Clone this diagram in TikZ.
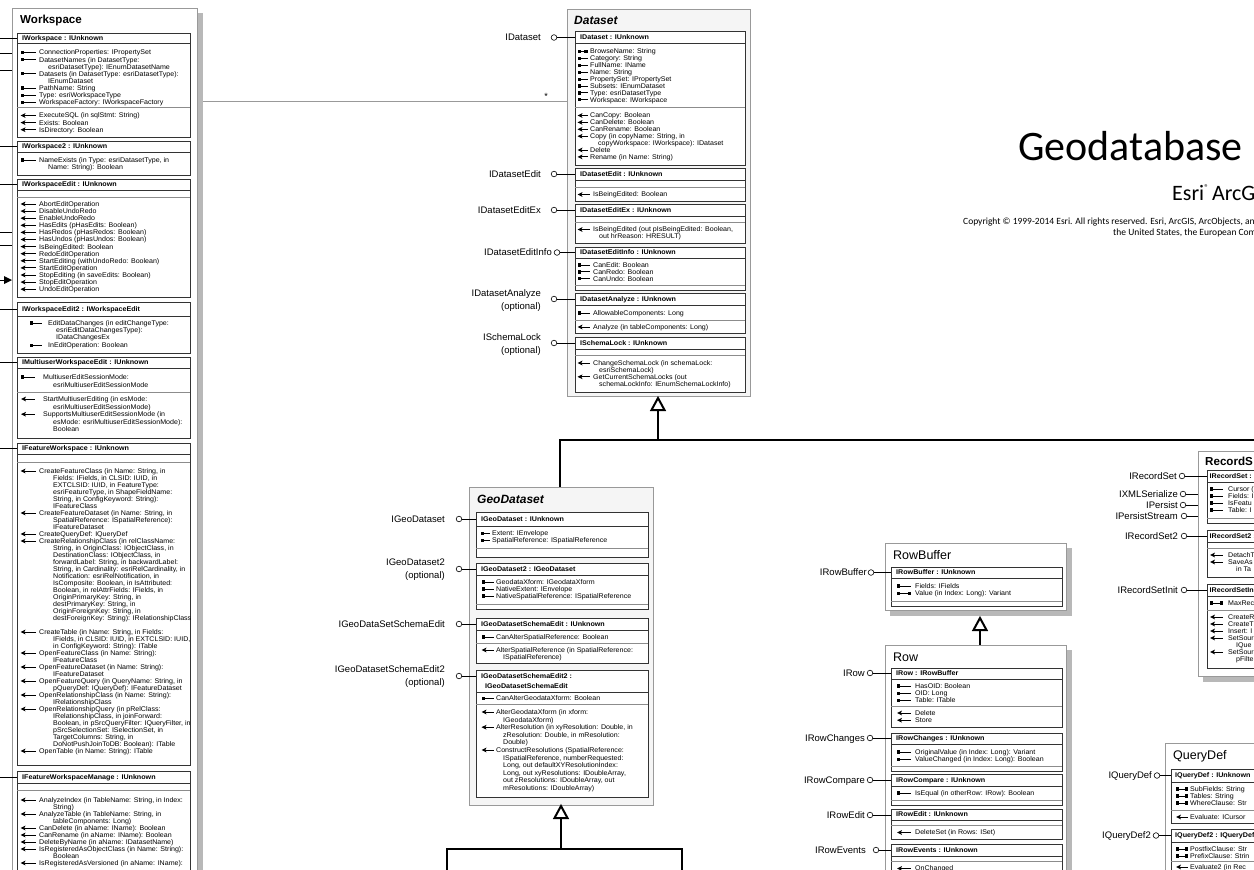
\documentclass[tikz,border=0pt]{standalone}
\usepackage{fontspec}
\setmainfont{Liberation Sans}
\newfontfamily\mf{Liberation Sans}[FakeStretch=1.04]
\newfontfamily\hf{Liberation Sans}[FakeStretch=1.05]
\newfontfamily\calfont{Carlito}
\newcounter{tc}
\newcommand\MF{\mf\fontsize{6.8}{7}\selectfont}
\newcommand\HF{\hf\bfseries\fontsize{6.8}{7}\selectfont}
\newcommand\LF{\fontsize{9.5}{11}\selectfont}
\newcommand\setcur[1]{\pgfmathsetmacro\tmpv{#1}\global\let\cury\tmpv}
\newcommand\nx{\pgfmathsetmacro\tmpv{\cury+\LS}\global\let\cury\tmpv}
\newcommand\Tn[2]{\stepcounter{tc}\node[mem] (t\arabic{tc}) at (#1,\cury+\BO) {#2};}
\newcommand\icong{\fill (\IX,\cury-1.6) rectangle ++(3.2,3.2); \draw[icl] (\IX+3.2,\cury) -- (\IX+\IL,\cury);}
\newcommand\icongs{\fill (\IX,\cury-1.6) rectangle ++(3.2,3.2); \draw[icl] (\IX+3.2,\cury) -- (\IX+\IL-3.2,\cury); \fill (\IX+\IL-3.2,\cury-1.6) rectangle ++(3.2,3.2);}
\newcommand\iconm{\fill (\IX,\cury) -- (\IX+5,\cury-2.4) -- (\IX+3.8,\cury) -- (\IX+5,\cury+2.4) -- cycle; \draw[icl] (\IX+3.8,\cury) -- (\IX+\IL,\cury);}
\newcommand\Mg[1]{\icong\Tn{\TX}{#1}\nx}
\newcommand\Mgs[1]{\icongs\Tn{\TX}{#1}\nx}
\newcommand\Mm[1]{\iconm\Tn{\TX}{#1}\nx}
\newcommand\Mc[1]{\Tn{\CX}{#1}\nx}
\newcommand\ibox[4]{\draw[ibx] (\BL,#1) rectangle (\BR,#2); \draw[ihl] (\BL,#3) -- (\BR,#3); \stepcounter{tc}\node[hdr] (t\arabic{tc}) at (\BL+\HX,{(#1+#3)/2+\HBO}) {#4};}
\newcommand\sep[1]{\draw[isep] (\BL,#1) -- (\BR,#1);}
\newcommand\lol[5]{\stepcounter{tc}\node[lab] (t\arabic{tc}) at (#2,#4+3.4) {#1}; \node[lolc] (c\arabic{tc}) at (#3,#4) {}; \coordinate (e\arabic{tc}) at (#5,#4); \draw[lline] (c\arabic{tc}) -- (e\arabic{tc});}
\newcommand\lolb[8]{\stepcounter{tc}\node[lab] (t\arabic{tc}) at (#3,#4+3.4) {#1}; \node[lab] (u\arabic{tc}) at (#3,#5+3.4) {#2}; \node[lolc] (c\arabic{tc}) at (#6,#7) {}; \coordinate (e\arabic{tc}) at (#8,#7); \draw[lline] (c\arabic{tc}) -- (e\arabic{tc});}
\newcommand\conn[3]{\stepcounter{tc}\coordinate (a\arabic{tc}) at (#1,#2); \coordinate (b\arabic{tc}) at (#3,#2); \draw[lline] (a\arabic{tc}) -- (b\arabic{tc});}
\tikzset{
 obx/.style={draw=black!40, line width=0.8pt},
 ibx/.style={draw=black!80, line width=0.8pt, fill=white},
 ihl/.style={draw=black!80, line width=0.6pt},
 isep/.style={draw=black!45, line width=0.7pt},
 icl/.style={line width=0.85pt},
 lline/.style={line width=0.8pt},
 mem/.style={anchor=base west, inner sep=0pt, font=\MF},
 hdr/.style={anchor=base west, inner sep=0pt, font=\HF},
 lab/.style={anchor=base east, inner sep=0pt, font=\LF},
 lolc/.style={circle, draw, fill=white, line width=0.6pt, minimum size=5.6pt, inner sep=0pt},
 inh/.style={line width=2.3pt},
 tri/.style={line width=2pt, fill=white, line join=miter},
 shd/.style={fill=black!28},
 ttlb/.style={anchor=base west, inner sep=0pt, font=\bfseries\fontsize{11.6}{12}\selectfont},
 ttlbi/.style={anchor=base west, inner sep=0pt, font=\bfseries\itshape\fontsize{12}{12}\selectfont},
 ttlr/.style={anchor=base west, inner sep=0pt, font=\fontsize{12.5}{13}\selectfont},
}
\begin{document}
\begin{tikzpicture}[x=1pt,y=-1pt]
\useasboundingbox (0,0) rectangle (1254,870);
\fill[white] (0,0) rectangle (1254,870);
% ---------- title block
\node[anchor=base west, inner sep=0pt, font=\calfont\fontsize{42}{42}\selectfont] (ttl) at (1018,160) {Geodatabase};
\node[anchor=base west, inner sep=0pt, font=\calfont\fontsize{22}{22}\selectfont] (esri) at (1172,200) {Esri\raisebox{9.5pt}{\fontsize{8.5}{8.5}\selectfont ®}\kern3.5pt ArcG};
\node[anchor=base west, inner sep=0pt, font=\calfont\fontsize{9.5}{10}\selectfont] (cp1) at (963,224) {Copyright © 1999-2014 Esri. All rights reserved. Esri, ArcGIS, ArcObjects, an};
\node[anchor=base west, inner sep=0pt, font=\calfont\fontsize{9.5}{10}\selectfont] (cp2) at (1113,235.5) {the United States, the European Com};
% ---------- Workspace
\fill[shd] (197,13) rectangle (203,880);
\draw[obx, fill=white] (12,8) rectangle (197,880);
\node[ttlb] (wsT) at (20,23.5) {Workspace};
\def\BL{17}\def\BR{190}\def\HX{5}\def\HBO{2.4}\def\BO{2.4}
\def\IX{20.5}\def\IL{15.5}\def\TX{39}\def\CX{48}\def\LS{7.1}
\ibox{33}{137}{43}{IWorkspace : IUnknown}
\setcur{52.5}
\Mg{ConnectionProperties: IPropertySet}
\Mg{DatasetNames (in DatasetType:}
\Mc{esriDatasetType): IEnumDatasetName}
\Mg{Datasets (in DatasetType: esriDatasetType):}
\Mc{IEnumDataset}
\Mg{PathName: String}
\Mg{Type: esriWorkspaceType}
\Mg{WorkspaceFactory: IWorkspaceFactory}
\sep{107}
\setcur{115.5}
\Mm{ExecuteSQL (in sqlStmt: String)}
\Mm{Exists: Boolean}
\Mm{IsDirectory: Boolean}
\ibox{141}{175}{152}{IWorkspace2 : IUnknown}
\setcur{160}
\Mg{NameExists (in Type: esriDatasetType, in}
\Mc{Name: String): Boolean}
\ibox{179}{297}{190}{IWorkspaceEdit : IUnknown}
\sep{197}
\setcur{204}
\Mm{AbortEditOperation}
\Mm{DisableUndoRedo}
\Mm{EnableUndoRedo}
\Mm{HasEdits (pHasEdits: Boolean)}
\Mm{HasRedos (pHasRedos: Boolean)}
\Mm{HasUndos (pHasUndos: Boolean)}
\Mm{IsBeingEdited: Boolean}
\Mm{RedoEditOperation}
\Mm{StartEditing (withUndoRedo: Boolean)}
\Mm{StartEditOperation}
\Mm{StopEditing (in saveEdits: Boolean)}
\Mm{StopEditOperation}
\Mm{UndoEditOperation}
\ibox{302}{353}{316}{IWorkspaceEdit2 : IWorkspaceEdit}
\def\IX{30}\def\IL{12}\def\TX{48}\def\CX{56}
\setcur{323}
\Mg{EditDataChanges (in editChangeType:}
\Mc{esriEditDataChangesType):}
\Mc{IDataChangesEx}
\setcur{345.5}
\Mg{InEditOperation: Boolean}
\ibox{357}{438}{368}{IMultiuserWorkspaceEdit : IUnknown}
\def\IX{21}\def\IL{14}\def\TX{43}\def\CX{53}\def\LS{7.6}
\setcur{377}
\Mg{MultiuserEditSessionMode:}
\Mc{esriMultiuserEditSessionMode}
\sep{392}
\setcur{399}
\Mm{StartMultiuserEditing (in esMode:}
\Mc{esriMultiuserEditSessionMode)}
\Mm{SupportsMultiuserEditSessionMode (in}
\Mc{esMode: esriMultiuserEditSessionMode):}
\Mc{Boolean}
\def\IX{20.5}\def\IL{15.5}\def\TX{39}\def\CX{53}\def\LS{7.0}
\ibox{443}{765}{454}{IFeatureWorkspace : IUnknown}
\sep{462}
\setcur{471}
\Mm{CreateFeatureClass (in Name: String, in}
\Mc{Fields: IFields, in CLSID: IUID, in}
\Mc{EXTCLSID: IUID, in FeatureType:}
\Mc{esriFeatureType, in ShapeFieldName:}
\Mc{String, in ConfigKeyword: String):}
\Mc{IFeatureClass}
\Mm{CreateFeatureDataset (in Name: String, in}
\Mc{SpatialReference: ISpatialReference):}
\Mc{IFeatureDataset}
\Mm{CreateQueryDef: IQueryDef}
\Mm{CreateRelationshipClass (in relClassName:}
\Mc{String, in OriginClass: IObjectClass, in}
\Mc{DestinationClass: IObjectClass, in}
\Mc{forwardLabel: String, in backwardLabel:}
\Mc{String, in Cardinality: esriRelCardinality, in}
\Mc{Notification: esriRelNotification, in}
\Mc{IsComposite: Boolean, in IsAttributed:}
\Mc{Boolean, in relAttrFields: IFields, in}
\Mc{OriginPrimaryKey: String, in}
\Mc{destPrimaryKey: String, in}
\Mc{OriginForeignKey: String, in}
\Mc{destForeignKey: String): IRelationshipClass}
\nx
\Mm{CreateTable (in Name: String, in Fields:}
\Mc{IFields, in CLSID: IUID, in EXTCLSID: IUID,}
\Mc{in ConfigKeyword: String): ITable}
\Mm{OpenFeatureClass (in Name: String):}
\Mc{IFeatureClass}
\Mm{OpenFeatureDataset (in Name: String):}
\Mc{IFeatureDataset}
\Mm{OpenFeatureQuery (in QueryName: String, in}
\Mc{pQueryDef: IQueryDef): IFeatureDataset}
\Mm{OpenRelationshipClass (in Name: String):}
\Mc{IRelationshipClass}
\Mm{OpenRelationshipQuery (in pRelClass:}
\Mc{IRelationshipClass, in joinForward:}
\Mc{Boolean, in pSrcQueryFilter: IQueryFilter, in}
\Mc{pSrcSelectionSet: ISelectionSet, in}
\Mc{TargetColumns: String, in}
\Mc{DoNotPushJoinToDB: Boolean): ITable}
\Mm{OpenTable (in Name: String): ITable}
\ibox{771}{900}{783}{IFeatureWorkspaceManage : IUnknown}
\sep{790}
\setcur{800}
\Mm{AnalyzeIndex (in TableName: String, in Index:}
\Mc{String)}
\Mm{AnalyzeTable (in TableName: String, in}
\Mc{tableComponents: Long)}
\Mm{CanDelete (in aName: IName): Boolean}
\Mm{CanRename (in aName: IName): Boolean}
\Mm{DeleteByName (in aName: IDatasetName)}
\Mm{IsRegisteredAsObjectClass (in Name: String):}
\Mc{Boolean}
\Mm{IsRegisteredAsVersioned (in aName: IName):}
% left connectors of Workspace
\conn{0}{38}{17}
\conn{0}{53}{12}
\conn{0}{70}{12}
\conn{0}{146.5}{17}
\conn{0}{184.5}{17}
\conn{0}{232}{12}
\conn{0}{245}{12}
\coordinate (arA) at (0,280); \coordinate (arB) at (5,280);
\draw[lline] (arA) -- (arB);
\fill (12,280) -- (4,276) -- (4,284) -- cycle;
\conn{0}{309}{17}
\conn{0}{362.5}{17}
\conn{0}{448.5}{17}
\conn{0}{777}{17}
% Workspace - Dataset association
\coordinate (wsR) at (203,101.5); \coordinate (dsL) at (567,101.5);
\draw[draw=black!40, line width=1.3pt] (wsR) -- (dsL);
\node[inner sep=0pt, font=\fontsize{9}{9}\selectfont] (star) at (546,96) {*};
% ---------- Dataset
\draw[obx, fill=black!4] (567,9) rectangle (750,396);
\node[ttlbi] (dsT) at (574,24.3) {Dataset};
\def\BL{575}\def\BR{745}\def\IX{577.5}\def\IL{10}\def\TX{590}\def\CX{598}\def\LS{6.9}
\ibox{31}{165}{43}{IDataset : IUnknown}
\setcur{51.5}
\Mgs{BrowseName: String}
\Mg{Category: String}
\Mg{FullName: IName}
\Mg{Name: String}
\Mg{PropertySet: IPropertySet}
\Mg{Subsets: IEnumDataset}
\Mg{Type: esriDatasetType}
\Mg{Workspace: IWorkspace}
\sep{107}
\setcur{115.5}
\Mm{CanCopy: Boolean}
\Mm{CanDelete: Boolean}
\Mm{CanRename: Boolean}
\Mm{Copy (in copyName: String, in}
\Mc{copyWorkspace: IWorkspace): IDataset}
\Mm{Delete}
\Mm{Rename (in Name: String)}
\def\IL{12}\def\TX{593}\def\CX{599}
\ibox{168}{201}{180}{IDatasetEdit : IUnknown}
\sep{187}
\setcur{194.5}
\Mm{IsBeingEdited: Boolean}
\ibox{204}{243}{216}{IDatasetEditEx : IUnknown}
\sep{222}
\setcur{229.5}
\Mm{IsBeingEdited (out pIsBeingEdited: Boolean,}
\Mc{out hrReason: HRESULT)}
\ibox{247}{290}{258}{IDatasetEditInfo : IUnknown}
\setcur{265}
\Mg{CanEdit: Boolean}
\Mg{CanRedo: Boolean}
\Mg{CanUndo: Boolean}
\sep{285}
\ibox{293}{333}{305}{IDatasetAnalyze : IUnknown}
\setcur{313}
\Mg{AllowableComponents: Long}
\sep{320}
\setcur{327}
\Mm{Analyze (in tableComponents: Long)}
\ibox{337}{392}{349}{ISchemaLock : IUnknown}
\sep{355}
\setcur{363}
\Mm{ChangeSchemaLock (in schemaLock:}
\Mc{esriSchemaLock)}
\Mm{GetCurrentSchemaLocks (out}
\Mc{schemaLockInfo: IEnumSchemaLockInfo)}
\lol{IDataset}{541}{554}{37.5}{575}
\lol{IDatasetEdit}{541}{554}{174}{575}
\lol{IDatasetEditEx}{541}{554}{210}{575}
\lol{IDatasetEditInfo}{552}{557}{252.5}{575}
\lolb{IDatasetAnalyze}{(optional)}{541}{293}{306}{554}{299}{575}
\lolb{ISchemaLock}{(optional)}{541}{337}{350}{554}{343}{575}
% ---------- GeoDataset
\draw[obx, fill=black!4] (469,487) rectangle (653,805);
\node[ttlbi] (gdT) at (477,503.3) {GeoDataset};
\def\BL{476}\def\BR{648}\def\IX{480.5}\def\IL{9.5}\def\TX{492}\def\CX{503}\def\LS{7}
\ibox{512}{557}{526}{IGeoDataset : IUnknown}
\setcur{533.5}
\Mg{Extent: IEnvelope}
\Mg{SpatialReference: ISpatialReference}
\sep{548}
\def\IX{481.5}\def\IL{12}\def\TX{496}\def\CX{503}
\ibox{563}{609}{575}{IGeoDataset2 : IGeoDataset}
\setcur{582}
\Mg{GeodataXform: IGeodataXform}
\Mg{NativeExtent: IEnvelope}
\Mg{NativeSpatialReference: ISpatialReference}
\sep{604}
\ibox{618}{663}{630}{IGeoDatasetSchemaEdit : IUnknown}
\setcur{637}
\Mg{CanAlterSpatialReference: Boolean}
\sep{643}
\setcur{650}
\Mm{AlterSpatialReference (in SpatialReference:}
\Mc{ISpatialReference)}
\draw[ibx] (\BL,670) rectangle (\BR,797);
\draw[ihl] (\BL,692) -- (\BR,692);
\node[hdr] (gse2a) at (481,678.4) {IGeoDatasetSchemaEdit2 :};
\node[hdr] (gse2b) at (485,688.4) {IGeoDatasetSchemaEdit};
\setcur{698.5}
\Mg{CanAlterGeodataXform: Boolean}
\sep{704}
\def\LS{7.6}
\setcur{712}
\Mm{AlterGeodataXform (in xform:}
\Mc{IGeodataXform)}
\Mm{AlterResolution (in xyResolution: Double, in}
\Mc{zResolution: Double, in mResolution:}
\Mc{Double)}
\Mm{ConstructResolutions (SpatialReference:}
\Mc{ISpatialReference, numberRequested:}
\Mc{Long, out defaultXYResolutionIndex:}
\Mc{Long, out xyResolutions: IDoubleArray,}
\Mc{out zResolutions: IDoubleArray, out}
\Mc{mResolutions: IDoubleArray)}
\lol{IGeoDataset}{445}{459}{519}{476}
\lolb{IGeoDataset2}{(optional)}{445}{562}{575}{459}{569}{476}
\lol{IGeoDataSetSchemaEdit}{445}{459}{624}{476}
\lolb{IGeoDatasetSchemaEdit2}{(optional)}{445}{669}{682}{459}{676}{476}
% ---------- RowBuffer
\fill[shd] (1066,548) rectangle (1072,616);
\fill[shd] (890,610) rectangle (1072,616);
\draw[obx, fill=white] (885,543) rectangle (1066,610);
\node[ttlr] (rbT) at (893,559.5) {RowBuffer};
\def\BL{891}\def\BR{1062}\def\IX{897}\def\IL{14}\def\TX{915}\def\CX{922}\def\LS{7.2}
\ibox{567}{606}{578}{IRowBuffer : IUnknown}
\setcur{586}
\Mg{Fields: IFields}
\Mgs{Value (in Index: Long): Variant}
\sep{601}
\lol{IRowBuffer}{867}{871}{572.5}{891}
% ---------- Row
\fill[shd] (1066,650) rectangle (1072,880);
\draw[obx, fill=white] (885,645) rectangle (1066,880);
\node[ttlr] (rwT) at (893,661.5) {Row};
\ibox{668}{727}{679}{IRow : IRowBuffer}
\setcur{686}
\Mg{HasOID: Boolean}
\Mg{OID: Long}
\Mg{Table: ITable}
\sep{706}
\setcur{713}
\Mm{Delete}
\Mm{Store}
\ibox{733}{771}{744}{IRowChanges : IUnknown}
\setcur{752}
\Mg{OriginalValue (in Index: Long): Variant}
\Mg{ValueChanged (in Index: Long): Boolean}
\sep{766}
\ibox{774}{805}{786}{IRowCompare : IUnknown}
\setcur{793}
\Mg{IsEqual (in otherRow: IRow): Boolean}
\sep{800}
\ibox{809}{839}{820}{IRowEdit : IUnknown}
\sep{825}
\setcur{832.5}
\Mm{DeleteSet (in Rows: ISet)}
\ibox{844}{890}{856}{IRowEvents : IUnknown}
\sep{861}
\setcur{868.5}
\Mm{OnChanged}
\lol{IRow}{865}{870}{673}{891}
\lol{IRowChanges}{865}{870}{738}{891}
\lol{IRowCompare}{865}{870}{780}{891}
\lol{IRowEdit}{865}{870}{815}{891}
\lol{IRowEvents}{866}{876}{850}{891}
% ---------- RecordSet
\fill[shd] (1203,676) rectangle (1270,682);
\draw[obx, fill=white] (1198,451) rectangle (1270,676);
\node[ttlb] (rsT) at (1205,465.3) {RecordS};
\def\BL{1207}\def\BR{1270}\def\HX{2.5}\def\IX{1210}\def\IL{13}\def\TX{1228}\def\CX{1236}\def\LS{7}
\ibox{470}{523}{482}{IRecordSet : I}
\setcur{489}
\Mg{Cursor (}
\Mg{Fields: I}
\Mg{IsFeatu}
\Mg{Table: I}
\sep{518}
\ibox{530}{577}{542}{IRecordSet2 :}
\sep{548}
\setcur{555}
\Mm{DetachT}
\Mm{SaveAs}
\Mc{in Ta}
\ibox{584}{668}{596}{IRecordSetIni}
\setcur{603}
\Mgs{MaxRec}
\sep{610}
\setcur{617}
\Mm{CreateR}
\Mm{CreateT}
\Mm{Insert: I}
\Mm{SetSour}
\Mc{IQue}
\Mm{SetSour}
\Mc{pFilte}
\lol{IRecordSet}{1177}{1182}{476}{1207}
\lol{IXMLSerialize}{1178}{1183}{494}{1198}
\lol{IPersist}{1178}{1183}{505}{1198}
\lol{IPersistStream}{1178}{1184}{516}{1198}
\lol{IRecordSet2}{1178}{1184}{536}{1207}
\lol{IRecordSetInit}{1178}{1184}{590}{1207}
% ---------- QueryDef
\draw[obx, fill=white] (1165,743) rectangle (1270,880);
\node[ttlr] (qdT) at (1173,759.5) {QueryDef};
\def\BL{1171}\def\BR{1270}\def\HX{4}\def\IX{1176}\def\IL{12}\def\TX{1190}\def\CX{1198}\def\LS{7}
\ibox{769}{823}{782}{IQueryDef : IUnknown}
\setcur{789}
\Mgs{SubFields: String}
\Mgs{Tables: String}
\Mgs{WhereClause: Str}
\sep{810}
\setcur{817}
\Mm{Evaluate: ICursor}
\ibox{829}{890}{842}{IQueryDef2 : IQueryDef}
\setcur{849}
\Mgs{PostfixClause: Str}
\Mgs{PrefixClause: Strin}
\sep{861}
\setcur{867}
\Mm{Evaluate2 (in Rec}
\lol{IQueryDef}{1152}{1157}{775.5}{1171}
\lol{IQueryDef2}{1151}{1156}{835.5}{1171}
% ---------- inheritance connectors
\coordinate (dsB) at (658,410); \coordinate (dsJ) at (658,440);
\coordinate (hR) at (1260,440); \coordinate (hL) at (560,440); \coordinate (gdTop) at (560,487);
\draw[inh] (dsB) -- (dsJ);
\draw[inh, line join=miter] (hR) -- (hL) -- (gdTop);
\draw[tri] (658,398) -- (664.5,410) -- (651.5,410) -- cycle;
\coordinate (gdB) at (561,818); \coordinate (gdJ) at (561,849);
\draw[inh] (gdB) -- (gdJ);
\draw[inh, line join=miter] (447,880) -- (447,849) -- (682,849) -- (682,880);
\draw[tri] (561,806) -- (567.5,818) -- (554.5,818) -- cycle;
\coordinate (rbB) at (980,630); \coordinate (rwTop) at (980,645);
\draw[inh] (rbB) -- (rwTop);
\draw[tri] (980,618) -- (986.5,630) -- (973.5,630) -- cycle;
\end{tikzpicture}
\end{document}
